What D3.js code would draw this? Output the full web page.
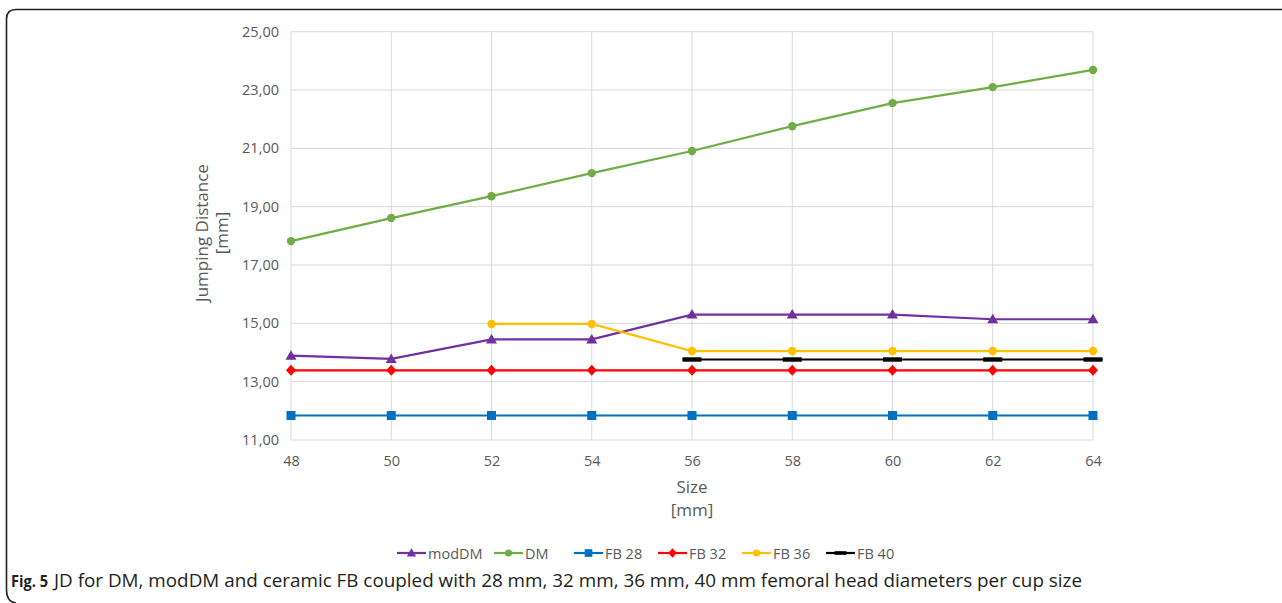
<!DOCTYPE html>
<html><head><meta charset="utf-8">
<script src="https://cdn.jsdelivr.net/npm/d3@7"></script>
<style>
html,body{margin:0;padding:0;background:#fff;}
svg{display:block;}
</style></head>
<body>
<svg id="chart" width="1282" height="603"></svg>
<script>
const sizes = [48, 50, 52, 54, 56, 58, 60, 62, 64];
const modDM = [13.89, 13.78, 14.45, 14.45, 15.30, 15.30, 15.30, 15.14, 15.14];
const DM = [17.82, 18.61, 19.36, 20.15, 20.91, 21.76, 22.55, 23.10, 23.69];
const FB28 = [11.84, 11.84, 11.84, 11.84, 11.84, 11.84, 11.84, 11.84, 11.84];
const FB32 = [13.39, 13.39, 13.39, 13.39, 13.39, 13.39, 13.39, 13.39, 13.39];
const FB36 = [null, null, 14.98, 14.98, 14.05, 14.05, 14.05, 14.05, 14.05];
const FB40 = [null, null, null, null, 13.76, 13.76, 13.76, 13.76, 13.76];
const yTicks = [11, 13, 15, 17, 19, 21, 23, 25];
const seriesNames = ["modDM", "DM", "FB 28", "FB 32", "FB 36", "FB 40"];
const seriesColors = ["#7030A0", "#70AD47", "#0070C0", "#FF0000", "#FFC000", "#000000"];
const seriesMarkers = ["triangle", "circle", "square", "diamond", "circle", "dash"];
const seriesValues = [modDM, DM, FB28, FB32, FB36, FB40];
const caption = "JD for DM, modDM and ceramic FB coupled with 28 mm, 32 mm, 36 mm, 40 mm femoral head diameters per cup size";

const svg = d3.select("#chart");
const font = "'Open Sans', sans-serif";
const textCol = "#595959";

// frame
svg.append("path")
  .attr("d", "M1282,9.5 H16 Q6.5,9.5 6.5,19 V590 Q6.5,602 16,603")
  .attr("fill", "none").attr("stroke", "#231f20").attr("stroke-width", 1.6);

const x = d3.scaleLinear().domain([48, 64]).range([291, 1093]);
const y = d3.scaleLinear().domain([11, 25]).range([440, 31.7]);

const g = svg.append("g");

// gridlines
g.append("g").selectAll("line").data(yTicks).join("line")
  .attr("x1", 291).attr("x2", 1093)
  .attr("y1", d => y(d)).attr("y2", d => y(d))
  .attr("stroke", "#d9d9d9").attr("stroke-width", 1);
g.append("g").selectAll("line").data(sizes).join("line")
  .attr("x1", d => x(d)).attr("x2", d => x(d))
  .attr("y1", y(25)).attr("y2", y(11))
  .attr("stroke", "#d9d9d9").attr("stroke-width", 1);

// axes
const yAxis = d3.axisLeft(y).tickValues(yTicks).tickSize(0).tickPadding(12)
  .tickFormat(d => d3.format(".2f")(d).replace(".", ","));
const ya = g.append("g").attr("transform", "translate(291,0)").call(yAxis);
ya.select(".domain").remove();
ya.selectAll("text").attr("font-family", font).attr("font-size", 14.5).attr("fill", textCol);

const xAxis = d3.axisBottom(x).tickValues(sizes).tickSize(0).tickPadding(16);
const xa = g.append("g").attr("transform", "translate(0,440)").call(xAxis);
xa.select(".domain").remove();
xa.selectAll("text").attr("font-family", font).attr("font-size", 14.5).attr("fill", textCol);

// axis titles
const xt = svg.append("text").attr("x", 692).attr("y", 493).attr("text-anchor", "middle")
  .attr("font-family", font).attr("font-size", 17).attr("fill", textCol);
xt.append("tspan").attr("x", 692).text("Size");
xt.append("tspan").attr("x", 692).attr("dy", 23).text("[mm]");

const yt = svg.append("text").attr("transform", "translate(208,233) rotate(-90)")
  .attr("text-anchor", "middle").attr("font-family", font).attr("font-size", 17).attr("fill", textCol);
yt.append("tspan").attr("x", 0).text("Jumping Distance");
yt.append("tspan").attr("x", 0).attr("dy", 20).text("[mm]");

// markers
function drawMarker(sel, type, color) {
  if (type === "circle") {
    sel.append("circle").attr("r", 4.2).attr("fill", color);
  } else if (type === "triangle") {
    sel.append("path").attr("d", "M0,-5.5 L5.5,4 L-5.5,4 Z").attr("fill", color);
  } else if (type === "square") {
    sel.append("rect").attr("x", -4.5).attr("y", -4.5).attr("width", 9).attr("height", 9).attr("fill", color);
  } else if (type === "diamond") {
    sel.append("path").attr("d", "M0,-5.5 L5,0 L0,5.5 L-5,0 Z").attr("fill", color);
  } else if (type === "dash") {
    sel.append("rect").attr("x", -9.5).attr("y", -2.2).attr("width", 19).attr("height", 4.4).attr("fill", color);
  }
}

const line = d3.line().defined(d => d.v != null).x(d => x(d.s)).y(d => y(d.v));

seriesValues.forEach((vals, i) => {
  const pts = sizes.map((s, k) => ({ s, v: vals[k] }));
  const sg = g.append("g");
  if (seriesMarkers[i] === "dash") {
    const valid = pts.filter(d => d.v != null);
    sg.append("line")
      .attr("x1", x(valid[0].s) - 9.5).attr("x2", x(valid[valid.length - 1].s) + 9.5)
      .attr("y1", y(valid[0].v)).attr("y2", y(valid[0].v))
      .attr("stroke", seriesColors[i]).attr("stroke-width", 2.2);
  } else {
    sg.append("path").datum(pts).attr("d", line).attr("fill", "none")
      .attr("stroke", seriesColors[i]).attr("stroke-width", 2.2);
  }
  pts.filter(d => d.v != null).forEach(d => {
    const m = sg.append("g").attr("transform", `translate(${x(d.s)},${y(d.v)})`);
    drawMarker(m, seriesMarkers[i], seriesColors[i]);
  });
});

// legend
const legendX = [397, 494, 574, 658, 742, 826];
const lg = svg.append("g").attr("transform", "translate(0,553)");
seriesNames.forEach((n, i) => {
  const it = lg.append("g").attr("transform", `translate(${legendX[i]},0)`);
  it.append("line").attr("x1", 0).attr("x2", 29).attr("y1", 0).attr("y2", 0)
    .attr("stroke", seriesColors[i]).attr("stroke-width", 2.2);
  const m = it.append("g").attr("transform", "translate(14.5,0)");
  if (seriesMarkers[i] === "dash") {
    m.append("rect").attr("x", -6).attr("y", -1.8).attr("width", 12).attr("height", 3.6).attr("fill", seriesColors[i]);
  } else {
    const mm = m.append("g").attr("transform", "scale(0.85)");
    drawMarker(mm, seriesMarkers[i], seriesColors[i]);
  }
  it.append("text").attr("x", 31).attr("y", 5.5).attr("font-family", font).attr("font-size", 14.5)
    .attr("fill", textCol).text(n);
});

// caption
svg.append("text").attr("x", 11).attr("y", 587)
  .attr("font-family", "'Open Sans', sans-serif").attr("font-size", 16).attr("font-weight", "bold")
  .attr("fill", "#231f20").attr("textLength", 37).attr("lengthAdjust", "spacingAndGlyphs").text("Fig. 5");
svg.append("text").attr("x", 54).attr("y", 587)
  .attr("font-family", "'Open Sans', sans-serif").attr("font-size", 18)
  .attr("fill", "#231f20").attr("textLength", 1028).attr("lengthAdjust", "spacingAndGlyphs").text(caption);
</script>
</body></html>
